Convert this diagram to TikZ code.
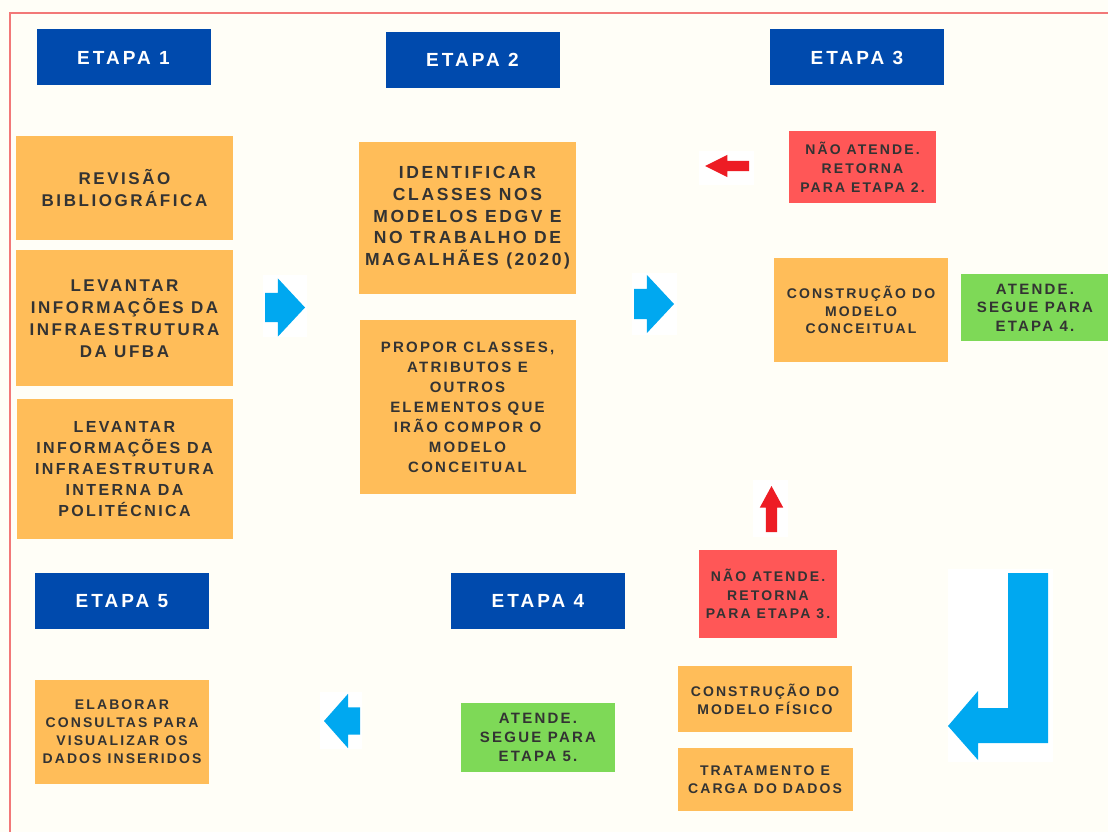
\documentclass[tikz,border=0pt]{standalone}
\usepackage{fontspec}
\setmainfont{Liberation Sans}
\newfontfamily\stepfont[LetterSpace=15]{Liberation Sans}
\newfontfamily\headfont[LetterSpace=16]{Liberation Sans}
\usetikzlibrary{positioning,shapes.arrows}

\definecolor{paper}{RGB}{255,254,247}
\definecolor{edgered}{RGB}{242,120,120}
\definecolor{stageblue}{RGB}{0,74,173}
\definecolor{taskorange}{RGB}{255,189,89}
\definecolor{failred}{RGB}{255,87,87}
\definecolor{passgreen}{RGB}{126,217,87}
\definecolor{flowblue}{RGB}{0,168,240}
\definecolor{backred}{RGB}{237,28,36}
\definecolor{ink}{RGB}{51,51,51}

\tikzset{
  stage/.style={
    rectangle,
    fill=stageblue,
    text=white,
    minimum width=174pt,
    minimum height=56pt,
    inner sep=0pt,
    font=\headfont\bfseries\fontsize{19}{22}\selectfont},
  box/.style={
    rectangle,
    text=ink,
    align=center,
    inner sep=0pt},
  task/.style={box, fill=taskorange},
  fail/.style={box, fill=failred},
  pass/.style={box, fill=passgreen},
  wh/.style 2 args={minimum width=#1, minimum height=#2},
  fsize/.style 2 args={font=\stepfont\bfseries\fontsize{#1}{#2}\selectfont},
  blockarrow/.style={
    single arrow,
    inner xsep=0pt,
    outer sep=0pt,
    anchor=tail},
  flow/.style={blockarrow, fill=flowblue},
  back/.style={blockarrow, fill=backred},
}

\begin{document}
\begin{tikzpicture}[x=1pt, y=-1pt]
  \useasboundingbox (0,0) rectangle (1108,832);
  \fill[paper] (0,0) rectangle (1108,832);
  \draw[edgered, line width=2pt] (1110,13.5) -- (9.5,13.5) -- (9.5,834);

  % stage headers
  \node[stage] (etapa1) at (123.5,57.5) {ETAPA 1};
  \node[stage] (etapa2) at (472.5,60) {ETAPA 2};
  \node[stage] (etapa3) at (857,57.5) {ETAPA 3};
  \node[stage] (etapa4) at (538,600.5) {ETAPA 4};
  \node[stage] (etapa5) at (122,601) {ETAPA 5};

  % etapa 1
  \node[task, wh={217pt}{104pt}, fsize={17}{22}] (revisao) at (124.5,188)
    {REVISÃO\\BIBLIOGRÁFICA};
  \node[task, wh={217pt}{136pt}, fsize={17}{22}, below=10pt of revisao] (infraufba)
    {LEVANTAR\\INFORMAÇÕES DA\\INFRAESTRUTURA\\DA UFBA};
  \node[task, wh={216pt}{140pt}, fsize={16}{21}, below=12pt of infraufba] (infrapoli)
    {LEVANTAR\\INFORMAÇÕES DA\\INFRAESTRUTURA\\INTERNA DA\\POLITÉCNICA};

  % etapa 2
  \node[task, wh={217pt}{152pt}, fsize={17.5}{21.7}] (classes) at (467.5,218)
    {IDENTIFICAR\\CLASSES NOS\\MODELOS EDGV E\\NO TRABALHO DE\\MAGALHÃES (2020)};
  \node[task, wh={216pt}{174pt}, fsize={15}{20}, below=26pt of classes] (propor)
    {PROPOR CLASSES,\\ATRIBUTOS E\\OUTROS\\ELEMENTOS QUE\\IRÃO COMPOR O\\MODELO\\CONCEITUAL};

  % etapa 3
  \node[fail, wh={147pt}{72pt}, fsize={14}{19}] (retorna2) at (862.5,167)
    {NÃO ATENDE.\\RETORNA\\PARA ETAPA 2.};
  \node[task, wh={174pt}{104pt}, fsize={14}{17.5}] (conceitual) at (861,310)
    {CONSTRUÇÃO DO\\MODELO\\CONCEITUAL};
  \node[pass, wh={148pt}{67pt}, fsize={15}{18.5}] (segue4) at (1035,307.5)
    {ATENDE.\\SEGUE PARA\\ETAPA 4.};

  % etapa 4
  \node[fail, wh={138pt}{88pt}, fsize={14}{18.5}] (retorna3) at (768,594)
    {NÃO ATENDE.\\RETORNA\\PARA ETAPA 3.};
  \node[task, wh={174pt}{66pt}, fsize={14}{18}] (fisico) at (765,699)
    {CONSTRUÇÃO DO\\MODELO FÍSICO};
  \node[task, wh={175pt}{63pt}, fsize={14}{18}, below=16pt of fisico] (carga)
    {TRATAMENTO E\\CARGA DO DADOS};
  \node[pass, wh={154pt}{69pt}, fsize={15}{19}] (segue5) at (538,737.5)
    {ATENDE.\\SEGUE PARA\\ETAPA 5.};

  % etapa 5
  \node[task, wh={174pt}{104pt}, fsize={14}{18}] (consultas) at (122,732)
    {ELABORAR\\CONSULTAS PARA\\VISUALIZAR OS\\DADOS INSERIDOS};

  % white pads behind the arrows
  \fill[white] (263,275) rectangle (307,337);
  \fill[white] (632,273) rectangle (677,335);
  \fill[white] (320,692) rectangle (362,749);
  \fill[white] (699,151) rectangle (754,185);
  \fill[white] (753,480) rectangle (788,537);
  \fill[white] (948,569) rectangle (1053,762);

  % flow arrows
  \node[flow, inner ysep=14.5pt, single arrow head extend=14.5pt,
    single arrow tip angle=94, minimum height=40pt] (toetapa2) at (265,307.5) {};
  \node[flow, inner ysep=15pt, single arrow head extend=14pt,
    single arrow tip angle=94, minimum height=40pt] (toetapa3) at (634,304) {};
  \node[flow, inner ysep=13.5pt, single arrow head extend=13.5pt,
    single arrow tip angle=97, minimum height=36pt,
    shape border rotate=180] (toetapa5) at (360,721) {};
  \fill[flowblue] (1008,573) -- (1048,573) -- (1048,743) -- (978,743)
    -- (978,760) -- (948,726) -- (978,691) -- (978,708) -- (1008,708) -- cycle;

  % return arrows
  \node[back, inner ysep=5pt, single arrow head extend=6pt,
    single arrow tip angle=53, minimum height=44pt,
    shape border rotate=180] (back2) at (749,166) {};
  \node[back, inner ysep=5.5pt, single arrow head extend=6pt,
    single arrow tip angle=57, minimum height=46pt,
    rotate=90] (back3) at (771.5,532) {};
\end{tikzpicture}
\end{document}
